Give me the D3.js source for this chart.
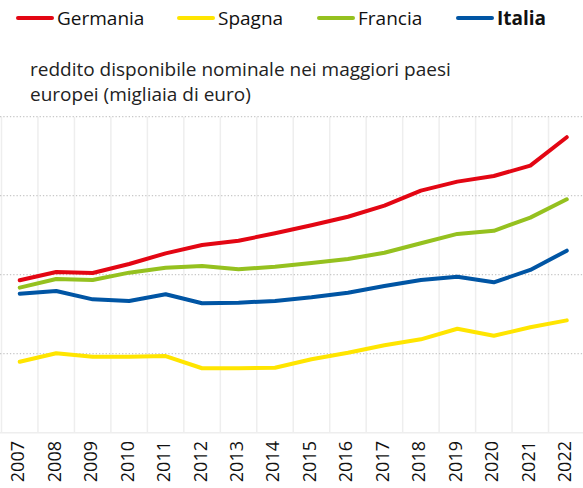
<!DOCTYPE html>
<html><head><meta charset="utf-8">
<script src="https://cdn.jsdelivr.net/npm/d3@7"></script>
<style>
html,body{margin:0;padding:0;background:#fff;}
svg{display:block;font-family:"Open Sans","Noto Sans",sans-serif;}
</style></head>
<body><svg id="c" width="583" height="488"></svg>
<script>
const years = ["2007","2008","2009","2010","2011","2012","2013","2014","2015","2016","2017","2018","2019","2020","2021","2022"];
const germania = [19.65,20.17,20.11,20.68,21.35,21.88,22.15,22.62,23.13,23.67,24.37,25.32,25.89,26.25,26.90,28.70];
const spagna   = [14.49,15.03,14.81,14.81,14.85,14.08,14.08,14.11,14.65,15.06,15.53,15.91,16.58,16.14,16.67,17.11];
const francia  = [19.18,19.73,19.66,20.13,20.44,20.55,20.34,20.51,20.74,20.99,21.39,21.99,22.58,22.78,23.61,24.77];
const italia   = [18.80,18.97,18.44,18.34,18.76,18.19,18.23,18.34,18.57,18.86,19.28,19.66,19.87,19.52,20.30,21.52];
const seriesNames = ["Germania","Spagna","Francia","Italia"];
const seriesColors = ["#e30613","#ffe500","#95c11f","#0055a4"];
const yTicks = [15,20,25,30];
const title = ["reddito disponibile nominale nei maggiori paesi","europei (migliaia di euro)"];

const series = [germania, spagna, francia, italia];
const svg = d3.select("#c");

const x = d3.scaleBand().domain(years).range([1.5, 585]);
const y = d3.scaleLinear().domain([10, 30]).range([432.7, 116.7]);

// vertical grid
const g = svg.append("g");
g.selectAll("line.v").data(years).join("line")
  .attr("x1", d => x(d)).attr("x2", d => x(d))
  .attr("y1", y(30)).attr("y2", y(10))
  .attr("stroke", "#eeeeee").attr("stroke-width", 1.5);
// horizontal dotted grid
g.selectAll("line.h").data(yTicks).join("line")
  .attr("x1", 0).attr("x2", 583)
  .attr("y1", d => y(d)).attr("y2", d => y(d))
  .attr("stroke", "#c8c8c8").attr("stroke-width", 1.3)
  .attr("stroke-dasharray", "1.3,2");
// baseline
g.append("line").attr("x1", 0).attr("x2", 583)
  .attr("y1", y(10)).attr("y2", y(10))
  .attr("stroke", "#eeeeee").attr("stroke-width", 1.5);

// x axis labels
svg.append("g").selectAll("text").data(years).join("text")
  .attr("transform", d => `translate(${x(d) + x.bandwidth()/2 - 1.5},441) rotate(-90)`)
  .attr("text-anchor", "end").attr("dy", "0.33em")
  .attr("font-size", 18).attr("fill", "#111")
  .text(d => d);

// lines
const line = d3.line().x((d, i) => x(years[i]) + x.bandwidth()/2).y(d => y(d));
svg.append("g").selectAll("path").data(series).join("path")
  .attr("d", d => line(d))
  .attr("fill", "none")
  .attr("stroke", (d, i) => seriesColors[i])
  .attr("stroke-width", 4)
  .attr("stroke-linecap", "round")
  .attr("stroke-linejoin", "round");

// title
svg.append("text").attr("x", 30).attr("y", 76)
  .attr("font-size", 19).attr("fill", "#222")
  .selectAll("tspan").data(title).join("tspan")
  .attr("x", 30).attr("dy", (d, i) => i ? 24.5 : 0).text(d => d);

// legend
const legendX = [17, 178, 318, 457];
const lg = svg.append("g");
seriesNames.forEach((n, i) => {
  const gi = lg.append("g").attr("transform", `translate(${legendX[i]},18)`);
  gi.append("line").attr("x1", 1).attr("x2", 35).attr("y1", 0).attr("y2", 0)
    .attr("stroke", seriesColors[i]).attr("stroke-width", 4).attr("stroke-linecap", "round");
  gi.append("text").attr("x", 40).attr("y", 6.8)
    .attr("font-size", 19).attr("fill", "#111")
    .attr("font-weight", n === "Italia" ? "bold" : "normal")
    .text(n);
});
</script></body></html>
